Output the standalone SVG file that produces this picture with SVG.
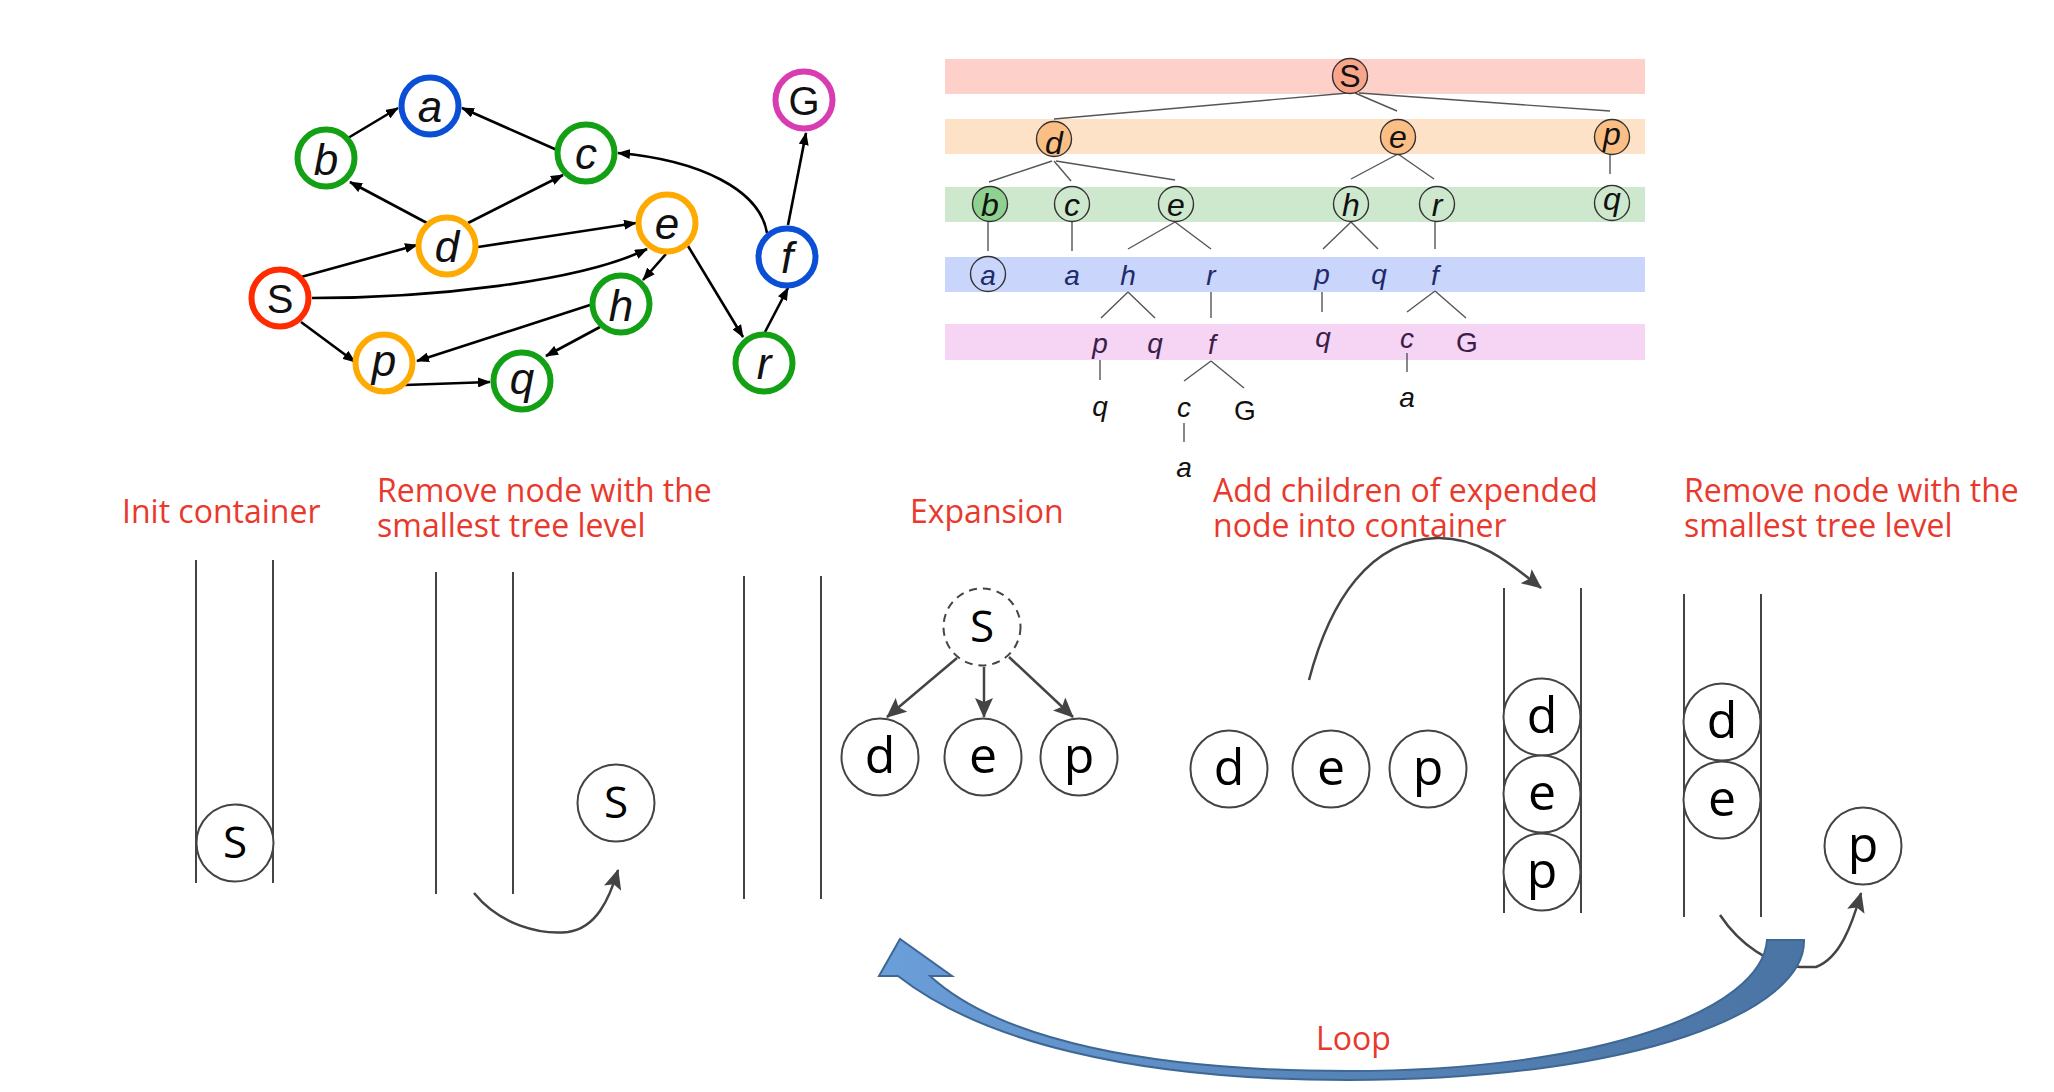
<svg xmlns="http://www.w3.org/2000/svg" width="2054" height="1092" viewBox="0 0 2054 1092">
<defs>
<marker id="ah" viewBox="0 0 13 10" refX="12" refY="5" markerWidth="13" markerHeight="10" markerUnits="userSpaceOnUse" orient="auto"><path d="M0,0 L13,5 L0,10 z" fill="#000"/></marker>
<marker id="ag" viewBox="0 0 20 18" refX="19" refY="9" markerWidth="20" markerHeight="18" markerUnits="userSpaceOnUse" orient="auto"><path d="M0,0 L20,9 L0,18 L4,9 z" fill="#444"/></marker>
<linearGradient id="blue" gradientUnits="userSpaceOnUse" x1="880" y1="0" x2="1810" y2="0"><stop offset="0" stop-color="#6b9fda"/><stop offset="0.5" stop-color="#5683b8"/><stop offset="1" stop-color="#4a74a3"/></linearGradient>
</defs>
<style>
.gn circle{fill:#fff;stroke-width:6}
.gt{font-family:"Liberation Sans",Arial,sans-serif;font-style:italic;font-size:44px;text-anchor:middle;fill:#111}
.gu{font-style:normal;font-size:40px}
.edge{fill:none;stroke:#000;stroke-width:2.6;marker-end:url(#ah)}
.tl{stroke:#555;stroke-width:1.4;fill:none}
.tc{stroke:#333;stroke-width:1.4}
.tt{font-family:"Liberation Sans",Arial,sans-serif;font-style:italic;font-size:28px;text-anchor:middle;fill:#111}
.tn{font-size:32px}
.up{font-style:normal}
.l3{fill:#1e2a6a}
.l4{fill:#3a1d4a}
.cap{font-family:"Open Sans",sans-serif;font-size:32px;fill:#e8392c}
.wall{stroke:#444;stroke-width:2}
.bn circle{fill:#fff;stroke:#444;stroke-width:2}
.bt{font-family:"Open Sans",sans-serif;font-size:50px;text-anchor:middle;fill:#000}
.bs{font-size:44px}
.garr{fill:none;stroke:#444;stroke-width:2.5;marker-end:url(#ag)}
</style>

<!-- Graph connectors -->
<g id="graph-edges">
<path class="edge" d="M348,138 L398,108"/>
<path class="edge" d="M557,150 L462,108"/>
<path class="edge" d="M427,223 L350,182"/>
<path class="edge" d="M468,223 L563,175"/>
<path class="edge" d="M478,247 L636,223"/>
<path class="edge" d="M301,277 L417,245"/>
<path class="edge" d="M312,298 C430,298 580,282 647,249"/>
<path class="edge" d="M301,322 L355,362"/>
<path class="edge" d="M590,305 L417,361"/>
<path class="edge" d="M405,385 L490,382"/>
<path class="edge" d="M600,327 L546,356"/>
<path class="edge" d="M666,254 L643,280"/>
<path class="edge" d="M688,246 L743,337"/>
<path class="edge" d="M765,332 L788,288"/>
<path class="edge" d="M788,225 L806,133"/>
<path class="edge" d="M767,233 C760,190 700,160 618,153"/>
</g>

<!-- Graph nodes -->
<g id="g-a" class="gn"><circle cx="430" cy="106" r="28.5" stroke="#0a4fd6"/><text class="gt" x="430" y="122">a</text></g>
<g id="g-b" class="gn"><circle cx="326" cy="158" r="28.5" stroke="#14a014"/><text class="gt" x="326" y="175">b</text></g>
<g id="g-c" class="gn"><circle cx="586" cy="153" r="28.5" stroke="#14a014"/><text class="gt" x="586" y="169">c</text></g>
<g id="g-G" class="gn"><circle cx="804" cy="100" r="28.5" stroke="#d83cb0"/><text class="gt gu" x="804" y="115">G</text></g>
<g id="g-d" class="gn"><circle cx="447" cy="246" r="28.5" stroke="#ffaa00"/><text class="gt" x="447" y="262">d</text></g>
<g id="g-e" class="gn"><circle cx="667" cy="223" r="28.5" stroke="#ffaa00"/><text class="gt" x="667" y="239">e</text></g>
<g id="g-f" class="gn"><circle cx="787" cy="257" r="28.5" stroke="#0a4fd6"/><text class="gt" x="787" y="273">f</text></g>
<g id="g-S" class="gn"><circle cx="280" cy="298" r="28.5" stroke="#ff2a00"/><text class="gt gu" x="280" y="313">S</text></g>
<g id="g-h" class="gn"><circle cx="621" cy="304" r="28.5" stroke="#14a014"/><text class="gt" x="621" y="321">h</text></g>
<g id="g-p" class="gn"><circle cx="384" cy="363" r="28.5" stroke="#ffaa00"/><text class="gt" x="384" y="376">p</text></g>
<g id="g-q" class="gn"><circle cx="522" cy="381" r="28.5" stroke="#14a014"/><text class="gt" x="522" y="394">q</text></g>
<g id="g-r" class="gn"><circle cx="764" cy="363" r="28.5" stroke="#14a014"/><text class="gt" x="764" y="379">r</text></g>

<!-- Tree bands -->
<g id="tree-bands">
<rect x="945" y="59" width="700" height="35" fill="#fdd0c9"/>
<rect x="945" y="119" width="700" height="35" fill="#fde2c8"/>
<rect x="945" y="187" width="700" height="35" fill="#cde8cc"/>
<rect x="945" y="257" width="700" height="35" fill="#c9d5fa"/>
<rect x="945" y="324" width="700" height="36" fill="#f6d4f4"/>
</g>

<!-- Tree connectors -->
<g id="tree-edges" class="tl">
<path d="M1348,93 L1054,119"/>
<path d="M1355,93 L1397,111"/>
<path d="M1359,93 L1610,111"/>
<path d="M1052,161 L989,182"/>
<path d="M1054,161 L1071,181"/>
<path d="M1056,161 L1175,180"/>
<path d="M1610,154 L1610,174"/>
<path d="M1398,154 L1351,179"/>
<path d="M1398,154 L1434,179"/>
<path d="M988,222 L988,251"/>
<path d="M1072,222 L1072,251"/>
<path d="M1175,222 L1128,249"/>
<path d="M1175,222 L1211,249"/>
<path d="M1351,222 L1323,249"/>
<path d="M1351,222 L1378,249"/>
<path d="M1435,222 L1435,249"/>
<path d="M1128,292 L1101,318"/>
<path d="M1128,292 L1155,318"/>
<path d="M1211,292 L1211,318"/>
<path d="M1322,292 L1322,312"/>
<path d="M1435,291 L1407,312"/>
<path d="M1435,291 L1466,318"/>
<path d="M1100,360 L1100,380"/>
<path d="M1211,361 L1184,381"/>
<path d="M1211,361 L1244,388"/>
<path d="M1407,353 L1407,372"/>
<path d="M1184,423 L1184,442"/>
</g>

<!-- Tree nodes -->
<g id="t-S"><circle class="tc" cx="1350" cy="76" r="17.5" fill="#f9a58b"/><text class="tt tn up" x="1350" y="87">S</text></g>
<g id="t-d"><circle class="tc" cx="1054" cy="139" r="17.5" fill="#fbbf86"/><text class="tt tn" x="1054" y="154">d</text></g>
<g id="t-e"><circle class="tc" cx="1398" cy="137" r="17.5" fill="#fbbf86"/><text class="tt tn" x="1398" y="148">e</text></g>
<g id="t-p"><circle class="tc" cx="1612" cy="137" r="17.5" fill="#fbbf86"/><text class="tt tn" x="1612" y="145">p</text></g>
<g id="t-b"><circle class="tc" cx="990" cy="204" r="17.5" fill="#8fd18f"/><text class="tt tn" x="990" y="216">b</text></g>
<g id="t-c"><circle class="tc" cx="1072" cy="204" r="17.5" fill="none"/><text class="tt tn" x="1072" y="216">c</text></g>
<g id="t-e2"><circle class="tc" cx="1176" cy="204" r="17.5" fill="none"/><text class="tt tn" x="1176" y="216">e</text></g>
<g id="t-h"><circle class="tc" cx="1351" cy="204" r="17.5" fill="none"/><text class="tt tn" x="1351" y="216">h</text></g>
<g id="t-r"><circle class="tc" cx="1437" cy="204" r="17.5" fill="none"/><text class="tt tn" x="1437" y="216">r</text></g>
<g id="t-q"><circle class="tc" cx="1612" cy="203" r="17.5" fill="none"/><text class="tt tn" x="1612" y="210">q</text></g>
<g id="t-a"><circle class="tc" cx="988" cy="274" r="17.5" fill="none"/><text class="tt l3" x="988" y="285">a</text></g>
<g id="t-l3" class="tt l3">
<text class="tt l3" x="1072" y="285">a</text>
<text class="tt l3" x="1128" y="285">h</text>
<text class="tt l3" x="1211" y="285">r</text>
<text class="tt l3" x="1322" y="284">p</text>
<text class="tt l3" x="1379" y="284">q</text>
<text class="tt l3" x="1435" y="285">f</text>
</g>
<g id="t-l4">
<text class="tt l4" x="1100" y="353">p</text>
<text class="tt l4" x="1155" y="353">q</text>
<text class="tt l4" x="1212" y="354">f</text>
<text class="tt l4" x="1323" y="347">q</text>
<text class="tt l4" x="1407" y="348">c</text>
<text class="tt l4 up" x="1467" y="352">G</text>
</g>
<g id="t-l5">
<text class="tt" x="1100" y="416">q</text>
<text class="tt" x="1184" y="417">c</text>
<text class="tt up" x="1245" y="420">G</text>
<text class="tt" x="1407" y="407">a</text>
<text class="tt" x="1184" y="477">a</text>
</g>

<!-- Captions -->
<g id="captions">
<text class="cap" x="122" y="523">Init container</text>
<text class="cap" x="377" y="502">Remove node with the</text>
<text class="cap" x="377" y="537">smallest tree level</text>
<text class="cap" x="910" y="523">Expansion</text>
<text class="cap" x="1213" y="502">Add children of expended</text>
<text class="cap" x="1213" y="537">node into container</text>
<text class="cap" x="1684" y="502">Remove node with the</text>
<text class="cap" x="1684" y="537">smallest tree level</text>
</g>

<!-- Containers -->
<g id="container-1"><line class="wall" x1="196" y1="560" x2="196" y2="883"/><line class="wall" x1="273" y1="560" x2="273" y2="883"/></g>
<g id="container-2"><line class="wall" x1="436" y1="572" x2="436" y2="894"/><line class="wall" x1="513" y1="572" x2="513" y2="894"/></g>
<g id="container-3"><line class="wall" x1="744" y1="576" x2="744" y2="899"/><line class="wall" x1="821" y1="576" x2="821" y2="899"/></g>
<g id="container-4"><line class="wall" x1="1504" y1="588" x2="1504" y2="913"/><line class="wall" x1="1581" y1="588" x2="1581" y2="913"/></g>
<g id="container-5"><line class="wall" x1="1684" y1="594" x2="1684" y2="917"/><line class="wall" x1="1761" y1="594" x2="1761" y2="917"/></g>

<!-- Step connectors -->
<g id="step-arrows">
<path class="garr" d="M474,893 C500,925 540,935 568,932 C596,928 609,900 618,870"/>
<path class="garr" d="M957,658 L887,717"/>
<path class="garr" d="M984,667 L984,717"/>
<path class="garr" d="M1009,657 L1073,717"/>
<path class="garr" d="M1309,680 C1330,600 1370,540 1437,538 C1480,537 1512,565 1541,588"/>
<path class="garr" d="M1720,915 C1740,945 1770,965 1800,967 L1816,967 C1840,958 1852,925 1861,893"/>
</g>

<!-- Step nodes -->
<g id="b-S1" class="bn"><circle cx="235" cy="843" r="38.5"/><text class="bt bs" x="235" y="858">S</text></g>
<g id="b-S2" class="bn"><circle cx="616" cy="803" r="38.5"/><text class="bt bs" x="616" y="818">S</text></g>
<g id="b-S3" class="bn"><circle cx="982" cy="627" r="38.5" stroke-dasharray="8,6"/><text class="bt bs" x="982" y="642">S</text></g>
<g id="b-d1" class="bn"><circle cx="880" cy="757" r="38.5"/><text class="bt" x="880" y="773">d</text></g>
<g id="b-e1" class="bn"><circle cx="983" cy="757" r="38.5"/><text class="bt" x="983" y="773">e</text></g>
<g id="b-p1" class="bn"><circle cx="1079" cy="757" r="38.5"/><text class="bt" x="1079" y="773">p</text></g>
<g id="b-d2" class="bn"><circle cx="1229" cy="769" r="38.5"/><text class="bt" x="1229" y="785">d</text></g>
<g id="b-e2" class="bn"><circle cx="1331" cy="769" r="38.5"/><text class="bt" x="1331" y="785">e</text></g>
<g id="b-p2" class="bn"><circle cx="1428" cy="769" r="38.5"/><text class="bt" x="1428" y="785">p</text></g>
<g id="b-d3" class="bn"><circle cx="1542" cy="717" r="38.5"/><text class="bt" x="1542" y="733">d</text></g>
<g id="b-e3" class="bn"><circle cx="1542" cy="794" r="38.5"/><text class="bt" x="1542" y="810">e</text></g>
<g id="b-p3" class="bn"><circle cx="1542" cy="872" r="38.5"/><text class="bt" x="1542" y="888">p</text></g>
<g id="b-d4" class="bn"><circle cx="1722" cy="722" r="38.5"/><text class="bt" x="1722" y="738">d</text></g>
<g id="b-e4" class="bn"><circle cx="1722" cy="800" r="38.5"/><text class="bt" x="1722" y="816">e</text></g>
<g id="b-p4" class="bn"><circle cx="1863" cy="846" r="38.5"/><text class="bt" x="1863" y="862">p</text></g>

<!-- Loop arrow -->
<g id="loop">
<path d="M1767,940 L1804,940 C1806,1010 1640,1080 1348,1080 C1130,1080 980,1040 898,976 L879,976 L900,939 L952,976 L930,976 C1000,1040 1150,1071 1348,1071 C1600,1071 1762,1010 1767,940 Z" fill="url(#blue)" stroke="#3e6794" stroke-width="2" stroke-linejoin="miter"/>
<text class="cap" x="1316" y="1050">Loop</text>
</g>
</svg>
